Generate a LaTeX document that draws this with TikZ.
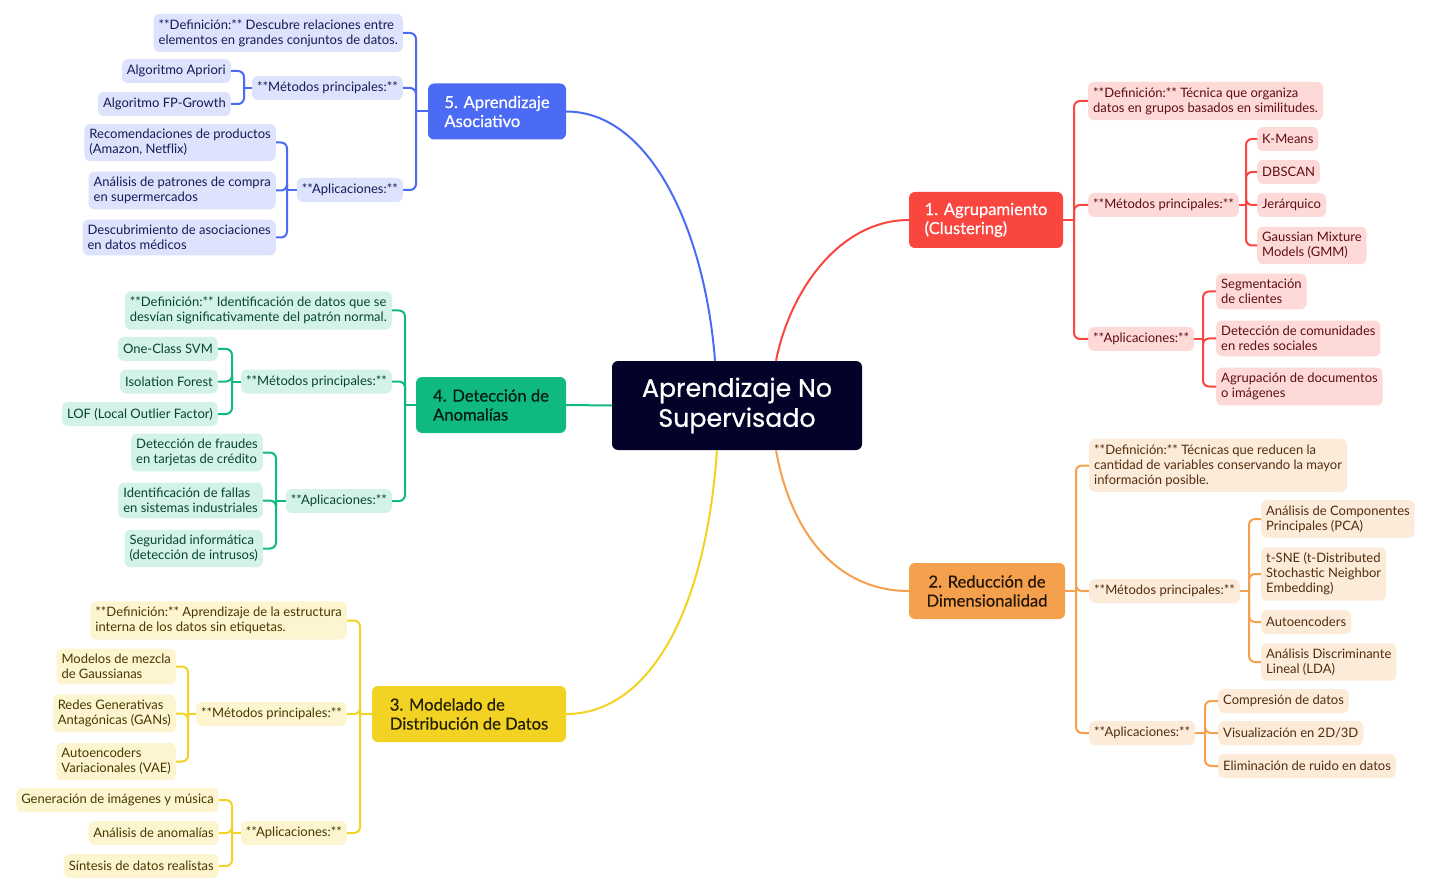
\documentclass[tikz,border=0pt]{standalone}
\usepackage{fontspec}
\setmainfont{Lato}
\newfontfamily\ctrfont[FakeBold=0.7]{Poppins}
\newfontfamily\brfont[FakeBold=0.5]{Lato}
\usetikzlibrary{calc}
\definecolor{cB}{HTML}{4B6BF5}\definecolor{cBl}{HTML}{DDE3FD}\definecolor{cBt}{HTML}{161A55}
\definecolor{cG}{HTML}{10BA7E}\definecolor{cGl}{HTML}{D2F3E6}\definecolor{cGt}{HTML}{094430}
\definecolor{cY}{HTML}{F2D222}\definecolor{cYl}{HTML}{FCF5D0}\definecolor{cYt}{HTML}{453900}
\definecolor{cR}{HTML}{F9463F}\definecolor{cRl}{HTML}{FDDAD8}\definecolor{cRt}{HTML}{5E0E0E}
\definecolor{cO}{HTML}{F5A04D}\definecolor{cOl}{HTML}{FDEBDA}\definecolor{cOt}{HTML}{502D0F}
\definecolor{cC}{HTML}{03032A}
\tikzset{
  leaf/.style={rounded corners=6pt, inner xsep=5pt, inner ysep=5.5pt, minimum height=24pt, align=left, font=\fontsize{13}{15}\selectfont},
  lB/.style={leaf, fill=cBl, text=cBt}, lG/.style={leaf, fill=cGl, text=cGt},
  lY/.style={leaf, fill=cYl, text=cYt}, lR/.style={leaf, fill=cRl, text=cRt},
  lO/.style={leaf, fill=cOl, text=cOt},
  branch/.style={rounded corners=6pt, minimum height=56pt, align=left, font=\brfont\fontsize{16.6}{19}\selectfont},
  conn/.style={line width=2pt, rounded corners=6pt},
}
\begin{document}
\begin{tikzpicture}[x=1pt,y=-1pt]
\useasboundingbox (0,0) rectangle (1430,893);
% center
\node[fill=cC, rounded corners=6pt, minimum width=250pt, minimum height=89pt, text=white, align=center, font=\ctrfont\fontsize{25.3}{30}\selectfont] (ctr) at (737,405.5) {Aprendizaje No\\Supervisado};
% branches
\node[branch, fill=cB, text=white, minimum width=138pt] (b5) at (497,111.5) {5. Aprendizaje\\Asociativo};
\node[branch, fill=cG, text=black!85!cG, minimum width=150pt] (b4) at (491,405) {4. Detección de\\Anomalías};
\node[branch, fill=cY, text=black!85!cY, minimum width=194pt] (b3) at (469,714) {3. Modelado de\\Distribución de Datos};
\node[branch, fill=cR, text=white, minimum width=154pt] (b1) at (986,220) {1. Agrupamiento\\(Clustering)};
\node[branch, fill=cO, text=black!85!cO, minimum width=156pt, align=center] (b2) at (987,591) {2. Reducción de\\Dimensionalidad};
% center connectors
\coordinate (ctrNW) at ($(ctr.north)+(-22,0)$);
\coordinate (ctrNE) at ($(ctr.north)+(39,0)$);
\coordinate (ctrSW) at ($(ctr.south)+(-20,0)$);
\coordinate (ctrSE) at ($(ctr.south)+(39,0)$);
\draw[line width=2pt, cB] (b5.east) .. controls (650,111.5) and (705,230) .. (ctrNW);
\draw[line width=2pt, cR] (ctrNE) .. controls (790,290) and (840,220) .. (b1.west);
\draw[line width=2pt, cO] (ctrSE) .. controls (790,530) and (835,591) .. (b2.west);
\draw[line width=2pt, cY] (ctrSW) .. controls (705,620) and (645,714) .. (b3.east);
\draw[line width=2pt, cG] (ctr.west) -- (b4.east);
% ---------- branch 5 (blue)
\node[lB, anchor=east] (b5def) at (403,33) {**Definición:** Descubre relaciones entre\\elementos en grandes conjuntos de datos.};
\node[lB, anchor=east] (b5met) at (403,88) {**Métodos principales:**};
\node[lB, anchor=east] (b5apl) at (403,190) {**Aplicaciones:**};
\node[lB, anchor=east] (b5m1) at (231,71) {Algoritmo Apriori};
\node[lB, anchor=east] (b5m2) at (231,104) {Algoritmo FP-Growth};
\node[lB, anchor=east] (b5a1) at (276,142.5) {Recomendaciones de productos\\(Amazon, Netflix)};
\node[lB, anchor=east] (b5a2) at (276,190.5) {Análisis de patrones de compra\\en supermercados};
\node[lB, anchor=east] (b5a3) at (276,237.5) {Descubrimiento de asociaciones\\en datos médicos};
\coordinate (j5) at (416,111.5); \coordinate (j5m) at (244,88); \coordinate (j5a) at (287,190);
\begin{scope}[conn, cB]
\draw (b5.west) -- (j5);
\foreach \n in {b5def,b5met,b5apl} \draw (j5) |- (\n.east);
\draw (b5met.west) -- (j5m);
\foreach \n in {b5m1,b5m2} \draw (j5m) |- (\n.east);
\draw (b5apl.west) -- (j5a);
\foreach \n in {b5a1,b5a2,b5a3} \draw (j5a) |- (\n.east);
\end{scope}
% ---------- branch 4 (green)
\node[lG, anchor=east] (b4def) at (392,310.5) {**Definición:** Identificación de datos que se\\desvían significativamente del patrón normal.};
\node[lG, anchor=east] (b4met) at (392,381.5) {**Métodos principales:**};
\node[lG, anchor=east] (b4apl) at (392,501) {**Aplicaciones:**};
\node[lG, anchor=east] (b4m1) at (218,349) {One-Class SVM};
\node[lG, anchor=east] (b4m2) at (218,381.5) {Isolation Forest};
\node[lG, anchor=east] (b4m3) at (218,414) {LOF (Local Outlier Factor)};
\node[lG, anchor=east] (b4a1) at (263,452.5) {Detección de fraudes\\en tarjetas de crédito};
\node[lG, anchor=east] (b4a2) at (263,500.5) {Identificación de fallas\\en sistemas industriales};
\node[lG, anchor=east] (b4a3) at (263,548.5) {Seguridad informática\\(detección de intrusos)};
\coordinate (j4) at (405,405); \coordinate (j4m) at (232,381.5); \coordinate (j4a) at (276,501);
\begin{scope}[conn, cG]
\draw (b4.west) -- (j4);
\foreach \n in {b4def,b4met,b4apl} \draw (j4) |- (\n.east);
\draw (b4met.west) -- (j4m);
\foreach \n in {b4m1,b4m2,b4m3} \draw (j4m) |- (\n.east);
\draw (b4apl.west) -- (j4a);
\foreach \n in {b4a1,b4a2,b4a3} \draw (j4a) |- (\n.east);
\end{scope}
% ---------- branch 3 (yellow)
\node[lY, anchor=east] (b3def) at (347,620.5) {**Definición:** Aprendizaje de la estructura\\interna de los datos sin etiquetas.};
\node[lY, anchor=east] (b3met) at (347,714) {**Métodos principales:**};
\node[lY, anchor=east] (b3apl) at (347,833) {**Aplicaciones:**};
\node[lY, anchor=east] (b3m1) at (176,666.5) {Modelos de mezcla\\de Gaussianas};
\node[lY, anchor=east] (b3m2) at (176,713.5) {Redes Generativas\\Antagónicas (GANs)};
\node[lY, anchor=east] (b3m3) at (176,761.5) {Autoencoders\\Variacionales (VAE)};
\node[lY, anchor=east] (b3a1) at (219,800) {Generación de imágenes y música};
\node[lY, anchor=east] (b3a2) at (219,833) {Análisis de anomalías};
\node[lY, anchor=east] (b3a3) at (219,866) {Síntesis de datos realistas};
\coordinate (j3) at (360,714); \coordinate (j3m) at (188,714); \coordinate (j3a) at (232,833);
\begin{scope}[conn, cY]
\draw (b3.west) -- (j3);
\foreach \n in {b3def,b3met,b3apl} \draw (j3) |- (\n.east);
\draw (b3met.west) -- (j3m);
\foreach \n in {b3m1,b3m2,b3m3} \draw (j3m) |- (\n.east);
\draw (b3apl.west) -- (j3a);
\foreach \n in {b3a1,b3a2,b3a3} \draw (j3a) |- (\n.east);
\end{scope}
% ---------- branch 1 (red)
\node[lR, anchor=west] (b1def) at (1088,101) {**Definición:** Técnica que organiza\\datos en grupos basados en similitudes.};
\node[lR, anchor=west] (b1met) at (1088,205) {**Métodos principales:**};
\node[lR, anchor=west] (b1apl) at (1088,339) {**Aplicaciones:**};
\node[lR, anchor=west] (b1m1) at (1257,139) {K-Means};
\node[lR, anchor=west] (b1m2) at (1257,172) {DBSCAN};
\node[lR, anchor=west] (b1m3) at (1257,205) {Jerárquico};
\node[lR, anchor=west] (b1m4) at (1257,245.5) {Gaussian Mixture\\Models (GMM)};
\node[lR, anchor=west] (b1a1) at (1216,291.5) {Segmentación\\de clientes};
\node[lR, anchor=west] (b1a2) at (1216,338.5) {Detección de comunidades\\en redes sociales};
\node[lR, anchor=west] (b1a3) at (1216,386.5) {Agrupación de documentos\\o imágenes};
\coordinate (j1) at (1074,220); \coordinate (j1m) at (1246,205); \coordinate (j1a) at (1203,339);
\begin{scope}[conn, cR]
\draw (b1.east) -- (j1);
\foreach \n in {b1def,b1met,b1apl} \draw (j1) |- (\n.west);
\draw (b1met.east) -- (j1m);
\foreach \n in {b1m1,b1m2,b1m3,b1m4} \draw (j1m) |- (\n.west);
\draw (b1apl.east) -- (j1a);
\foreach \n in {b1a1,b1a2,b1a3} \draw (j1a) |- (\n.west);
\end{scope}
% ---------- branch 2 (orange)
\node[lO, anchor=west] (b2def) at (1089,465.5) {**Definición:** Técnicas que reducen la\\cantidad de variables conservando la mayor\\información posible.};
\node[lO, anchor=west] (b2met) at (1089,591) {**Métodos principales:**};
\node[lO, anchor=west] (b2apl) at (1089,733) {**Aplicaciones:**};
\node[lO, anchor=west] (b2m1) at (1261,519) {Análisis de Componentes\\Principales (PCA)};
\node[lO, anchor=west] (b2m2) at (1261,574) {t-SNE (t-Distributed\\Stochastic Neighbor\\Embedding)};
\node[lO, anchor=west] (b2m3) at (1261,622) {Autoencoders};
\node[lO, anchor=west] (b2m4) at (1261,662) {Análisis Discriminante\\Lineal (LDA)};
\node[lO, anchor=west] (b2a1) at (1218,701) {Compresión de datos};
\node[lO, anchor=west] (b2a2) at (1218,733) {Visualización en 2D/3D};
\node[lO, anchor=west] (b2a3) at (1218,766) {Eliminación de ruido en datos};
\coordinate (j2) at (1076,591); \coordinate (j2m) at (1249,591); \coordinate (j2a) at (1205,733);
\begin{scope}[conn, cO]
\draw (b2.east) -- (j2);
\foreach \n in {b2def,b2met,b2apl} \draw (j2) |- (\n.west);
\draw (b2met.east) -- (j2m);
\foreach \n in {b2m1,b2m2,b2m3,b2m4} \draw (j2m) |- (\n.west);
\draw (b2apl.east) -- (j2a);
\foreach \n in {b2a1,b2a2,b2a3} \draw (j2a) |- (\n.west);
\end{scope}
\end{tikzpicture}
\end{document}
